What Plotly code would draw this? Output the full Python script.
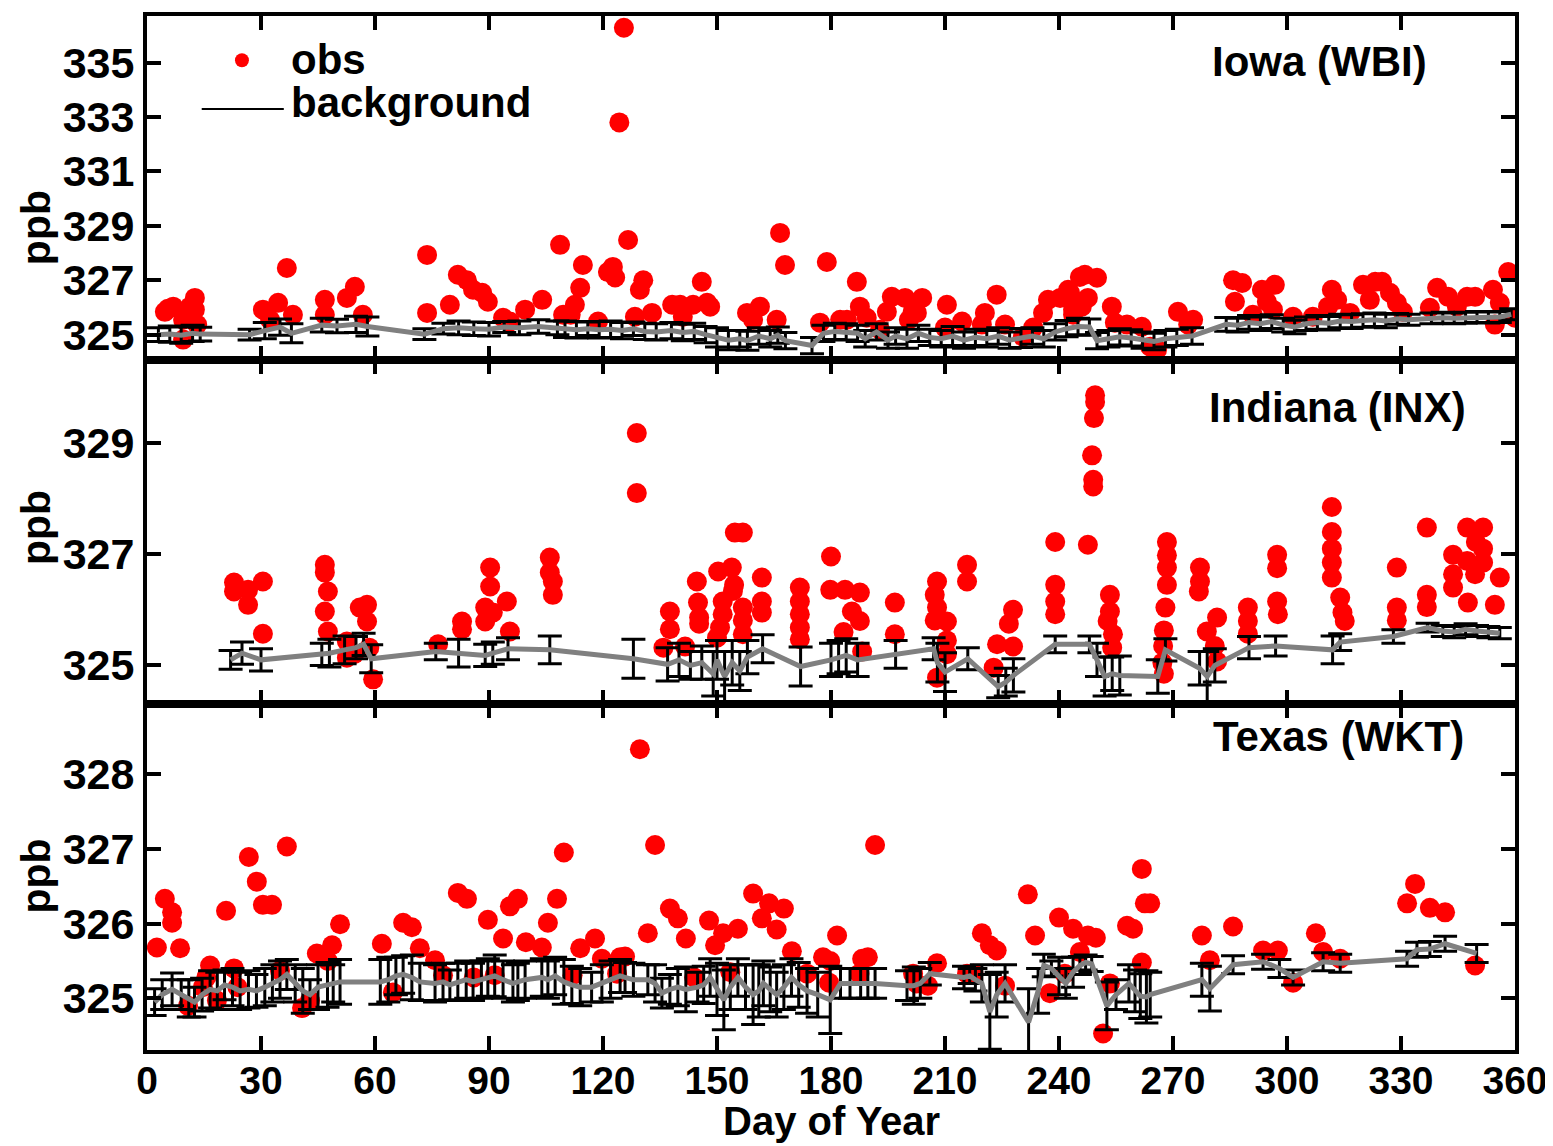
import plotly.graph_objects as go
from plotly.subplots import make_subplots

# ---------------- DATA ----------------
# Iowa (WBI) observations
iowa_obs_day = [4.7, 6.9, 5.5, 9.5, 9.5, 12.6, 12.6, 11.3, 13.2, 30.5, 34.5, 36.8, 38.4, 32.4,
                46.8, 46.8, 52.6, 54.7, 56.8, 73.7, 73.7, 79.7, 81.8, 84.2, 85.8, 88.2, 89.7,
                93.7, 95.5, 99.5, 104, 108.7, 114.7, 114, 112.6, 109.5, 111.5, 118.7, 121.3,
                122.6, 123.2, 125.5, 124.3, 126.6, 129.7, 130.6, 128.4, 132.9, 138.2, 140.3,
                141, 143.7, 146, 147.4, 148.2, 157.9, 161.3, 159.5, 165.7, 166.6, 167.9, 177.1,
                178.9, 182.4, 184.2, 186.8, 187.6, 189.4, 192.9, 196, 194.7, 199.5, 201.5,
                202.6, 204, 200.5, 210.5, 214.5, 210, 220.5, 219.7, 223.6, 225.8, 230.5, 233.2,
                235.8, 237.1, 240.3, 242.4, 243.7, 245.5, 242.9, 246.8, 250, 246, 247.6, 243.7,
                253.9, 254.7, 257.9, 261.8, 265.8, 264, 271.3, 275.3, 274, 285.8, 288.2, 286.3,
                291, 293.4, 296.8, 294.7, 296.3, 301.6, 306.8, 311.8, 313.2, 310.8, 316.6, 320,
                323.2, 325, 321.8, 327.1, 328.9, 330.5, 339.5, 337.6, 342.4, 344.7, 347.4,
                349.5, 354.2, 356, 358.2, 354.7, 360]
iowa_obs_val = [325.84, 326.03, 325.95, 325.55, 324.82, 326.35, 325.92, 326.03, 325.37, 325.92,
                326.17, 327.45, 325.73, 325.55, 326.28, 325.73, 326.35, 326.76, 325.73, 327.93,
                325.80, 326.10, 327.20, 327.00, 326.65, 326.54, 326.21, 325.62, 325.48, 325.92,
                326.28, 328.30, 327.56, 326.72, 326.10, 325.73, 325.73, 325.48, 327.30, 327.49,
                327.10, 336.28, 332.80, 328.48, 326.65, 327.00, 325.66, 325.80, 326.10, 326.10,
                325.66, 326.10, 326.94, 326.17, 326.03, 325.80, 326.03, 325.55, 325.55, 328.74,
                327.56, 325.44, 327.67, 325.55, 325.55, 326.94, 326.03, 325.62, 325.18, 326.39,
                325.84, 326.35, 325.84, 325.80, 326.35, 325.55, 326.10, 325.48, 325.26, 325.80,
                325.37, 326.47, 325.37, 324.93, 325.26, 325.80, 326.28, 326.35, 326.65, 325.92,
                327.12, 326.54, 327.20, 327.09, 326.03, 326.35, 325.73, 326.03, 325.44, 325.37,
                325.29, 324.45, 324.56, 325.84, 325.55, 325.37, 327.00, 326.90, 326.21, 325.73,
                326.65, 326.83, 326.21, 325.92, 325.66, 325.66, 326.65, 326.28, 326.03, 325.80,
                326.83, 326.94, 326.94, 326.28, 326.54, 326.17, 325.84, 326.72, 325.99, 326.39,
                326.03, 326.39, 326.39, 326.65, 326.17, 327.30, 325.37, 325.62]

# Iowa (WBI) background
iowa_bg_day = [3, 6, 9, 12, 14, 27, 31, 35, 38, 46, 50, 55, 58, 73, 78, 82, 86, 90, 94, 98, 103,
               108, 110, 113, 116, 119, 122, 125, 128, 131, 134, 138, 141, 144, 147, 150, 153,
               156, 158, 161, 164, 166, 168, 175, 178, 181, 184, 187, 189, 192, 195, 197, 200,
               203, 206, 209, 212, 215, 218, 221, 224, 227, 230, 233, 236, 239, 242, 245, 248,
               250, 253, 256, 259, 262, 265, 268, 271, 275, 284, 287, 290, 293, 296, 299, 302,
               305, 308, 311, 314, 317, 320, 323, 326, 329, 332, 338, 341, 344, 347, 350, 353,
               356, 359]
iowa_bg_val = [325.00, 325.02, 324.98, 325.05, 325.02, 325.00, 325.15, 325.28, 325.05, 325.35,
               325.32, 325.38, 325.30, 325.02, 325.22, 325.25, 325.22, 325.20, 325.28, 325.25,
               325.30, 325.25, 325.20, 325.18, 325.22, 325.18, 325.20, 325.15, 325.22, 325.12,
               325.10, 325.15, 325.08, 325.12, 325.00, 324.90, 324.80, 324.85, 324.78, 324.95,
               324.85, 324.98, 324.78, 324.60, 325.05, 325.12, 325.10, 325.05, 324.85, 325.10,
               324.80, 324.95, 324.85, 325.05, 324.90, 324.85, 324.95, 324.80, 324.90, 324.85,
               324.95, 324.80, 324.88, 324.95, 324.85, 325.10, 325.22, 325.30, 325.28, 324.78,
               324.85, 324.92, 324.88, 324.80, 324.75, 324.85, 324.90, 324.95, 325.38, 325.35,
               325.45, 325.40, 325.48, 325.35, 325.28, 325.40, 325.45, 325.42, 325.50, 325.48,
               325.52, 325.55, 325.50, 325.58, 325.55, 325.60, 325.62, 325.60, 325.62, 325.65,
               325.63, 325.65, 325.75]
iowa_bg_err = [0.25, 0.3, 0.3, 0.3, 0.25, 0.2, 0.3, 0.3, 0.35, 0.25, 0.25, 0.3, 0.35, 0.2, 0.2,
               0.25, 0.25, 0.25, 0.2, 0.25, 0.25, 0.25, 0.3, 0.3, 0.25, 0.3, 0.3, 0.3, 0.25, 0.3,
               0.3, 0.3, 0.3, 0.3, 0.3, 0.35, 0.35, 0.3, 0.35, 0.3, 0.3, 0.3, 0.3, 0.3, 0.3, 0.3,
               0.3, 0.3, 0.3, 0.3, 0.3, 0.3, 0.35, 0.3, 0.3, 0.3, 0.35, 0.3, 0.3, 0.3, 0.3, 0.3,
               0.35, 0.3, 0.3, 0.3, 0.3, 0.3, 0.3, 0.3, 0.3, 0.3, 0.3, 0.3, 0.3, 0.3, 0.3, 0.3,
               0.25, 0.25, 0.25, 0.25, 0.25, 0.25, 0.25, 0.25, 0.25, 0.25, 0.25, 0.25, 0.25, 0.25,
               0.25, 0.2, 0.2, 0.2, 0.2, 0.2, 0.2, 0.2, 0.2, 0.2, 0.2]

# Indiana (INX) observations
indiana_obs_day = [22.9, 22.9, 26.6, 26.6, 30.5, 30.5, 46.8, 46.8, 47.6, 46.8, 47.6, 52.6, 52.6,
                   56, 57.9, 57.9, 58.5, 59.5, 54.5, 76.6, 82.9, 82.9, 90.3, 90.3, 89, 89, 91,
                   94.7, 95.5, 106, 106, 106.8, 106.8, 128.9, 128.9, 137.6, 137.6, 135.9, 141.6,
                   144.7, 145, 145.3, 145.3, 150.3, 151.5, 151.5, 150.8, 150, 153.9, 154.5,
                   154.2, 154.7, 156.8, 156.8, 156.8, 156.8, 161.8, 161.8, 161.8, 171.8, 171.8,
                   171.8, 171.8, 171.8, 180, 179.8, 183.7, 187.6, 185.5, 187.6, 183.3, 188.2,
                   196.8, 196.8, 207.9, 207.3, 207.9, 207.3, 210.5, 210.5, 210.5, 207.9, 215.8,
                   215.8, 223.7, 222.8, 227.9, 226.8, 227.9, 239, 239, 239, 239, 249.5, 249.5,
                   249.2, 248.7, 249, 249, 247.6, 253.4, 253.4, 252.8, 254.2, 254, 268.4, 268.4,
                   268.4, 268.4, 268, 267.6, 267.4, 267.2, 267.6, 277.1, 277.1, 276.8, 278.9,
                   281.6, 281, 281.6, 289.7, 289.7, 289.7, 297.4, 297.4, 297.4, 297.6, 311.8,
                   311.8, 311.8, 311.8, 311.8, 314, 314.6, 315.2, 328.9, 328.9, 328.9, 336.8,
                   336.8, 336.8, 343.7, 343.7, 343.7, 347.4, 347.4, 347.6, 349.7, 349.5, 351.6,
                   351.6, 351.6, 356, 354.7]
indiana_obs_val = [326.49, 326.33, 326.36, 326.09, 326.51, 325.57, 326.81, 326.67, 326.33,
                   325.97, 325.61, 325.43, 325.14, 326.04, 326.09, 325.79, 325.32, 324.75,
                   325.20, 325.38, 325.79, 325.65, 326.76, 326.42, 326.04, 325.79, 325.95,
                   326.15, 325.61, 326.94, 326.67, 326.51, 326.27, 329.18, 328.10, 325.97,
                   325.65, 325.32, 325.34, 326.51, 326.13, 325.86, 325.75, 326.69, 326.15,
                   325.92, 325.68, 325.50, 326.76, 326.45, 326.34, 327.39, 327.39, 326.04,
                   325.81, 325.56, 326.58, 326.15, 325.95, 326.40, 326.15, 325.92, 325.68,
                   325.47, 326.96, 326.36, 326.36, 326.31, 325.97, 325.80, 325.60, 325.25,
                   326.13, 325.56, 326.51, 326.27, 326.04, 325.81, 325.79, 325.45, 325.20,
                   324.78, 326.81, 326.51, 325.38, 324.96, 326.00, 325.75, 325.34, 327.22,
                   326.45, 326.15, 325.92, 329.86, 329.74, 329.45, 328.78, 328.34, 328.22,
                   327.17, 326.27, 325.97, 325.80, 325.56, 325.32, 327.22, 326.98, 326.76,
                   326.45, 326.04, 325.63, 325.35, 325.05, 324.85, 326.76, 326.51, 326.33,
                   325.61, 325.86, 325.35, 325.07, 326.04, 325.80, 325.57, 326.99, 326.75,
                   326.15, 325.92, 327.85, 327.40, 327.10, 326.85, 326.58, 326.22, 325.95,
                   325.80, 326.76, 326.04, 325.81, 327.48, 326.27, 326.05, 326.99, 326.64,
                   326.40, 327.48, 326.88, 326.13, 327.22, 326.64, 327.48, 327.10, 326.85,
                   326.58, 326.09]

# Indiana (INX) background
indiana_bg_day = [22, 25, 30, 46, 48, 52, 55, 57, 59, 76, 82, 89, 91, 95, 106, 128, 137, 140, 143,
                  146, 149, 150, 152, 154, 156, 158, 162, 172, 180, 182, 184, 187, 197, 207, 208,
                  210, 216, 224, 226, 228, 239, 248, 250, 252, 254, 256, 266, 268, 277, 279, 281,
                  290, 297, 312, 314, 328, 337, 341, 344, 347, 350, 353, 356]
indiana_bg_val = [325.10, 325.22, 325.10, 325.20, 325.22, 325.28, 325.32, 325.38, 325.12, 325.25,
                  325.22, 325.18, 325.22, 325.30, 325.28, 325.12, 325.02, 325.10, 325.00, 325.05,
                  324.85, 325.10, 324.80, 325.05, 324.90, 325.15, 325.30, 324.98, 325.10, 325.15,
                  325.18, 325.10, 325.20, 325.30, 325.05, 324.88, 325.12, 324.62, 324.70, 324.82,
                  325.38, 325.38, 325.10, 324.80, 324.85, 324.82, 324.80, 325.28, 324.95, 324.80,
                  325.00, 325.32, 325.35, 325.28, 325.42, 325.52, 325.68, 325.62, 325.60, 325.65,
                  325.62, 325.60, 325.58]
indiana_bg_err = [0.17, 0.2, 0.2, 0.2, 0.25, 0.25, 0.2, 0.2, 0.25, 0.15, 0.25, 0.2, 0.2, 0.2,
                  0.25, 0.35, 0.3, 0.3, 0.25, 0.3, 0.4, 0.35, 0.45, 0.4, 0.35, 0.3, 0.25, 0.35,
                  0.3, 0.3, 0.3, 0.3, 0.25, 0.2, 0.35, 0.35, 0.2, 0.2, 0.25, 0.3, 0.15, 0.15, 0.3,
                  0.35, 0.3, 0.35, 0.3, 0.2, 0.3, 0.45, 0.3, 0.2, 0.18, 0.25, 0.15, 0.12, 0.08,
                  0.1, 0.1, 0.1, 0.1, 0.1, 0.1]

# Texas (WKT) observations
texas_obs_day = [2.6, 4.7, 6.6, 6.6, 8.7, 16.6, 15.6, 14.7, 10.8, 18.4, 20.8, 22.9, 23.8, 26.8,
                 28.9, 30.5, 32.9, 36.8, 35, 40.8, 42.9, 44.7, 47.6, 48.7, 50.8, 61.8, 64.7,
                 67.4, 69.7, 71.8, 75.8, 77.9, 81.8, 84.2, 86, 89.7, 91.5, 93.7, 95.5, 97.6, 99.7,
                 103.9, 105.5, 107.9, 109.7, 112, 114, 117.9, 119.7, 123.7, 124.5, 129.7, 133.7,
                 125.8, 131.8, 137.6, 139.7, 141.8, 144, 147.9, 151.6, 149.5, 155.5, 153.5,
                 159.5, 161.8, 163.7, 165.7, 167.6, 169.7, 173.7, 177.9, 179.8, 181.6, 179.5,
                 188.2, 189.7, 187.5, 191.6, 201.6, 202.5, 205.5, 207.9, 215.8, 217.5, 219.7,
                 221.8, 223.6, 225.8, 231.8, 233.7, 237.6, 240, 243.7, 247.6, 249.7, 245.5,
                 241.5, 251.6, 253.4, 257.9, 259.5, 261.8, 262.6, 264, 261.8, 277.6, 279.7,
                 285.8, 293.7, 297.6, 301.6, 307.6, 309.5, 314, 331.6, 333.7, 337.6, 341.6,
                 349.5]
texas_obs_val = [325.68, 326.33, 326.15, 326.01, 325.67, 325.44, 325.28, 325.15, 324.90, 324.97,
                 326.17, 325.40, 325.15, 326.89, 326.56, 326.25, 326.25, 327.03, 325.37, 324.87,
                 324.97, 325.60, 325.50, 325.71, 325.99, 325.73, 325.08, 326.01, 325.95, 325.67,
                 325.51, 325.31, 326.41, 326.33, 325.28, 326.05, 325.31, 325.80, 326.23, 326.33,
                 325.75, 325.68, 326.01, 326.33, 326.95, 325.31, 325.67, 325.80, 325.53, 325.33,
                 325.55, 328.33, 327.05, 325.56, 325.87, 326.20, 326.07, 325.80, 325.28, 326.04,
                 325.87, 325.71, 325.93, 325.35, 326.40, 326.07, 326.27, 325.92, 326.20, 325.63,
                 325.33, 325.55, 325.50, 325.84, 325.21, 325.53, 325.55, 325.33, 327.05, 325.33,
                 325.20, 325.17, 325.47, 325.33, 325.33, 325.87, 325.71, 325.64, 325.17, 326.39,
                 325.84, 325.07, 326.08, 325.93, 325.84, 325.81, 325.62, 325.33, 324.53, 325.20,
                 325.97, 325.93, 326.73, 326.27, 326.27, 325.48, 325.84, 325.51, 325.96, 325.64,
                 325.64, 325.21, 325.87, 325.62, 325.53, 326.27, 326.53, 326.21, 326.15, 325.44]

# Texas (WKT) background
texas_bg_day = [2, 4, 6.6, 9, 11, 12.5, 14.5, 16.6, 18.5, 20.4, 22.5, 24.5, 26.7, 28.8, 31, 33, 35,
                36.8, 39, 41, 42.9, 45, 47.5, 49, 50.8, 61.4, 63.5, 65.5, 67.4, 69.7, 71.8, 75.8,
                77.9, 79.7, 81.8, 84, 85.8, 88, 89.7, 91.5, 93.7, 96.3, 97.6, 99.5, 103.9, 105.5,
                107.4, 109.7, 111.8, 114, 117, 119.7, 122, 124.5, 125.8, 128, 131.8, 133.7,
                135.5, 137.6, 139.7, 141.8, 144.9, 146.5, 148.2, 150, 151.8, 153.5, 155.5,
                157.5, 159.5, 161, 162.2, 164, 165.7, 167.6, 169.6, 171.5, 173.7, 176.5, 179.8,
                182.5, 185, 187.8, 189.7, 191.6, 200, 201.8, 203.5, 206, 215, 216.5, 218, 219.7,
                221.8, 223.6, 225.8, 232, 234.5, 236, 238, 240, 241.8, 243.7, 245.5, 247, 248.6,
                252.6, 255, 258.4, 260, 261.4, 263, 264, 277.6, 279.7, 285.8, 293.7, 298, 301.6,
                309.5, 314, 331.6, 334.2, 337.6, 341.6, 349.9]
texas_bg_val = [324.95, 325.05, 325.12, 325.05, 325.00, 324.95, 325.05, 325.12, 325.10, 325.18,
                325.15, 325.10, 325.12, 325.10, 325.15, 325.20, 325.25, 325.32, 325.20, 325.10,
                325.05, 325.15, 325.18, 325.20, 325.22, 325.22, 325.25, 325.30, 325.32, 325.28,
                325.22, 325.20, 325.22, 325.18, 325.22, 325.25, 325.22, 325.25, 325.28, 325.30,
                325.25, 325.20, 325.22, 325.25, 325.28, 325.25, 325.30, 325.22, 325.18, 325.15,
                325.15, 325.20, 325.25, 325.30, 325.28, 325.25, 325.25, 325.20, 325.07, 325.12,
                325.15, 325.12, 325.15, 325.18, 325.28, 325.12, 324.98, 325.15, 325.28, 325.15,
                325.05, 325.10, 325.20, 325.12, 325.05, 325.15, 325.28, 325.18, 325.10, 325.05,
                324.98, 325.20, 325.20, 325.20, 325.20, 325.20, 325.17, 325.17, 325.20, 325.33,
                325.28, 325.30, 325.25, 325.20, 324.82, 325.05, 325.20, 324.68, 325.10, 325.44,
                325.40, 325.30, 325.20, 325.35, 325.44, 325.48, 325.46, 324.90, 325.05, 325.20,
                325.10, 325.03, 325.02, 325.05, 325.25, 325.13, 325.45, 325.49, 325.40, 325.28,
                325.49, 325.47, 325.53, 325.65, 325.66, 325.73, 325.60]
texas_bg_err = [0.18, 0.2, 0.22, 0.2, 0.25, 0.2, 0.22, 0.25, 0.25, 0.2, 0.25, 0.25, 0.25, 0.22,
                0.25, 0.25, 0.25, 0.2, 0.25, 0.3, 0.2, 0.3, 0.3, 0.25, 0.3, 0.3, 0.3, 0.25, 0.25,
                0.3, 0.25, 0.25, 0.25, 0.2, 0.25, 0.25, 0.25, 0.25, 0.25, 0.28, 0.25, 0.25, 0.25,
                0.25, 0.25, 0.25, 0.25, 0.3, 0.25, 0.25, 0.2, 0.25, 0.25, 0.22, 0.2, 0.22, 0.2,
                0.25, 0.2, 0.2, 0.25, 0.3, 0.2, 0.25, 0.25, 0.35, 0.4, 0.3, 0.25, 0.3, 0.4, 0.35,
                0.3, 0.3, 0.3, 0.3, 0.25, 0.3, 0.3, 0.3, 0.45, 0.2, 0.2, 0.2, 0.2, 0.2, 0.2, 0.25,
                0.2, 0.15, 0.15, 0.1, 0.15, 0.25, 0.5, 0.3, 0.25, 0.45, 0.3, 0.15, 0.1, 0.25, 0.2,
                0.2, 0.12, 0.1, 0.1, 0.32, 0.2, 0.25, 0.28, 0.3, 0.35, 0.3, 0.22, 0.3, 0.12, 0.1,
                0.12, 0.1, 0.12, 0.12, 0.1, 0.1, 0.1, 0.1, 0.12]

panel_titles = ["Iowa (WBI)", "Indiana (INX)", "Texas (WKT)"]
y_ranges = [[324.08, 336.71], [324.30, 330.50], [324.31, 328.93]]
y_ticks = [[325, 327, 329, 331, 333, 335], [325, 327, 329], [325, 326, 327, 328]]
x_ticks = [0, 30, 60, 90, 120, 150, 180, 210, 240, 270, 300, 330, 360]

# ---------------- FIGURE ----------------
FONT = "Liberation Sans, Arial, sans-serif"
fig = make_subplots(rows=3, cols=1, shared_xaxes=True, vertical_spacing=0)

panels = [
    (iowa_obs_day, iowa_obs_val, iowa_bg_day, iowa_bg_val, iowa_bg_err),
    (indiana_obs_day, indiana_obs_val, indiana_bg_day, indiana_bg_val, indiana_bg_err),
    (texas_obs_day, texas_obs_val, texas_bg_day, texas_bg_val, texas_bg_err),
]

for i, (od, ov, bd, bv, be) in enumerate(panels):
    r = i + 1
    fig.add_trace(go.Scatter(x=od, y=ov, mode="markers", name="obs", showlegend=False,
                             marker=dict(color="#ff0000", size=20, line=dict(width=0))),
                  row=r, col=1)
    fig.add_trace(go.Scatter(x=bd, y=bv, mode="lines", name="background", showlegend=False,
                             line=dict(color="#808080", width=5),
                             error_y=dict(type="data", array=be, visible=True, color="black",
                                          thickness=3, width=12)), row=r, col=1)

domains = [[0.6676, 1.0], [0.3343, 0.6676], [0.0, 0.3343]]
for i in range(3):
    r = i + 1
    fig.update_yaxes(row=r, col=1, range=y_ranges[i], tickvals=y_ticks[i],
                     domain=domains[i], showgrid=False, zeroline=False,
                     showline=True, linecolor="black", linewidth=4, mirror="allticks",
                     ticks="inside", ticklen=14, tickwidth=4, tickcolor="black",
                     tickfont=dict(family=FONT, size=43, color="black", weight="bold"))
    fig.update_xaxes(row=r, col=1, range=[0, 360], tickvals=x_ticks,
                     showgrid=False, zeroline=False,
                     showline=True, linecolor="black", linewidth=4, mirror="allticks",
                     ticks="inside", ticklen=14, tickwidth=4, tickcolor="black",
                     tickfont=dict(family=FONT, size=39, color="black", weight="bold"),
                     ticklabelstandoff=-7,
                     showticklabels=(r == 3))

annotations = []
# x-axis title (bottom of its box sits on the bottom edge of the figure)
annotations.append(dict(text="<b>Day of Year</b>", xref="paper", yref="paper", x=0.5, y=-0.0915,
                        xanchor="center", yanchor="bottom", showarrow=False,
                        font=dict(family=FONT, size=40, color="black")))
# y-axis titles
ppb_y = [0.795, 0.505, 0.168]
for yy in ppb_y:
    annotations.append(dict(text="<b>ppb</b>", xref="paper", yref="paper", x=-0.081, y=yy,
                            xanchor="center", yanchor="middle", textangle=-90, showarrow=False,
                            font=dict(family=FONT, size=41, color="black")))
# panel titles
title_y = [0.956, 0.621, 0.303]
title_x = [0.937, 0.966, 0.964]
for t, xx, yy in zip(panel_titles, title_x, title_y):
    annotations.append(dict(text="<b>" + t + "</b>", xref="paper", yref="paper", x=xx, y=yy,
                            xanchor="right", yanchor="middle", showarrow=False,
                            font=dict(family=FONT, size=42, color="black")))
# legend texts
annotations.append(dict(text="<b>obs</b>", xref="paper", yref="paper", x=0.104, y=0.958,
                        xanchor="left", yanchor="middle", showarrow=False,
                        font=dict(family=FONT, size=42, color="black")))
annotations.append(dict(text="<b>background</b>", xref="paper", yref="paper", x=0.104, y=0.916,
                        xanchor="left", yanchor="middle", showarrow=False,
                        font=dict(family=FONT, size=42, color="black")))

shapes = [
    dict(type="line", xref="paper", yref="paper", x0=0.040, x1=0.1, y0=0.91, y1=0.91,
         line=dict(color="black", width=2)),
    dict(type="circle", xref="paper", yref="paper", x0=0.0643, x1=0.0745, y0=0.9505, y1=0.964,
         fillcolor="#ff0000", line=dict(width=0)),
]

# the page body adds an 8 px offset, so the figure is sized to fit the window
fig.update_layout(width=1545, height=1138, margin=dict(l=139, r=38, t=4, b=96),
                  paper_bgcolor="white", plot_bgcolor="white", showlegend=False,
                  annotations=annotations, shapes=shapes,
                  font=dict(family=FONT, color="black"))

fig.write_html("out.html")
